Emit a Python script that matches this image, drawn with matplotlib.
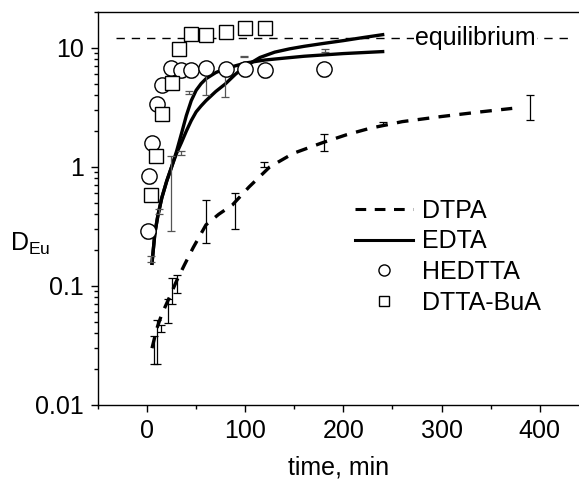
import numpy as np
import matplotlib
matplotlib.use('Agg')
import matplotlib.pyplot as plt
from matplotlib.lines import Line2D
from matplotlib.ticker import LogLocator, NullFormatter, FixedFormatter, FixedLocator

plt.rcParams['font.family'] = ['Liberation Sans', 'DejaVu Sans']
plt.rcParams['mathtext.fontset'] = 'custom'
plt.rcParams['mathtext.rm'] = 'Liberation Sans'

# equilibrium level
D_eq = 12.0

# DTPA model curve and data with errors
dtpa_t = [5, 10, 15, 23, 30, 38, 47, 60, 73, 87, 104, 125, 149, 179, 203, 227, 260, 300, 340, 372]
dtpa_D = [0.030, 0.044, 0.058, 0.081, 0.11, 0.15, 0.21, 0.326, 0.40, 0.48, 0.68, 1.0, 1.3,
          1.6, 1.86, 2.11, 2.4, 2.65, 2.9, 3.1]
dtpa_err_t = [7, 10, 14, 21, 25, 30, 60, 90, 119, 180, 240, 390]
dtpa_err_lo = [0.022, 0.022, 0.041, 0.049, 0.070, 0.088, 0.23, 0.30, 1.00, 1.35, 2.27, 2.47]
dtpa_err_hi = [0.038, 0.052, 0.047, 0.077, 0.117, 0.124, 0.53, 0.60, 1.10, 1.90, 2.40, 4.00]

# EDTA model curves (two runs) and error bars
edta1_t = [5, 8, 11, 15, 20, 25, 30, 35, 40, 45, 50, 55, 60, 70, 80, 100, 120, 140, 160, 200, 240]
edta1_D = [0.155, 0.28, 0.39, 0.55, 0.76, 1.0, 1.35, 1.9, 2.7, 3.6, 4.4, 5.0, 5.5, 6.2, 6.7,
           7.45, 7.9, 8.2, 8.5, 8.95, 9.3]
edta2_t = [5, 8, 11, 15, 20, 25, 30, 35, 40, 45, 50, 55, 60, 70, 80, 90, 100, 115, 130, 145,
           160, 180, 200, 220, 240]
edta2_D = [0.155, 0.28, 0.39, 0.55, 0.76, 1.0, 1.3, 1.6, 2.0, 2.45, 2.9, 3.25, 3.6, 4.3, 5.0,
           6.0, 7.0, 8.3, 9.2, 9.8, 10.3, 10.9, 11.5, 12.2, 12.9]
edta_err_t = [4, 12, 24, 35, 43, 60, 79, 99, 181]
edta_err_lo = [0.16, 0.40, 0.29, 1.25, 4.1, 4.0, 3.9, 8.3, 9.3]
edta_err_hi = [0.18, 0.44, 1.23, 1.35, 4.3, 6.3, 7.4, 8.6, 9.7]

# HEDTTA data
hedtta_t = [1, 2, 5, 10, 15, 24, 35, 45, 60, 80, 100, 120, 180]
hedtta_D = [0.29, 0.84, 1.6, 3.4, 4.9, 6.75, 6.5, 6.5, 6.8, 6.65, 6.65, 6.5, 6.6]

# DTTA-BuA data
dttabua_t = [4, 9, 15, 25, 33, 45, 60, 80, 100, 120]
dttabua_D = [0.58, 1.24, 2.8, 5.05, 9.8, 13.1, 12.7, 13.6, 14.6, 14.6]

fig = plt.figure(figsize=(5.79, 4.88), dpi=100)
ax = fig.add_axes([98 / 579, 1 - 405 / 488, 481 / 579, 393 / 488])

ax.plot([-32, 431], [D_eq, D_eq], color='black', lw=1.0, ls=(0, (6, 5)), zorder=1)
ax.text(273, D_eq, 'equilibrium', fontsize=18, va='center', ha='left',
        bbox=dict(facecolor='white', edgecolor='none', pad=1), zorder=2)

ax.plot(dtpa_t, dtpa_D, color='black', lw=2.4, ls=(0, (3.5, 2.8)), zorder=3)
ax.plot(edta1_t, edta1_D, color='black', lw=2.4, zorder=3)
ax.plot(edta2_t, edta2_D, color='black', lw=2.4, zorder=3)

lo = np.array(dtpa_err_lo)
hi = np.array(dtpa_err_hi)
mid = np.sqrt(lo * hi)
ax.errorbar(dtpa_err_t, mid, yerr=[mid - lo, hi - mid],
            fmt='none', ecolor='black', elinewidth=0.9, capsize=3, capthick=0.9, zorder=4)
lo2 = np.array(edta_err_lo)
hi2 = np.array(edta_err_hi)
mid2 = np.sqrt(lo2 * hi2)
ax.errorbar(edta_err_t, mid2, yerr=[mid2 - lo2, hi2 - mid2],
            fmt='none', ecolor='#555555', elinewidth=0.9, capsize=3, capthick=0.9, zorder=4)

h = np.array(hedtta_D)
ax.errorbar(hedtta_t, hedtta_D, yerr=[h * 0.12, h * 0.12], fmt='o', ms=11, mfc='white',
            mec='black', mew=1.0, ecolor='black', elinewidth=0.8, capsize=3, capthick=0.8, zorder=5)
s = np.array(dttabua_D)
ax.errorbar(dttabua_t, dttabua_D, yerr=[s * 0.1, s * 0.1], fmt='s', ms=9.5, mfc='white',
            mec='black', mew=1.0, ecolor='black', elinewidth=0.8, capsize=3, capthick=0.8, zorder=5)

ax.set_yscale('log')
ax.set_xlim(-50, 440)
ax.set_ylim(0.01, 20)
ax.xaxis.set_major_locator(FixedLocator([0, 100, 200, 300, 400]))
ax.xaxis.set_minor_locator(FixedLocator([-50, 50, 150, 250, 350]))
ax.yaxis.set_major_locator(FixedLocator([0.01, 0.1, 1, 10]))
ax.yaxis.set_major_formatter(FixedFormatter(['0.01', '0.1', '1', '10']))
ax.yaxis.set_minor_locator(LogLocator(base=10, subs=np.arange(2, 10)))
ax.yaxis.set_minor_formatter(NullFormatter())
ax.tick_params(which='both', direction='out', labelsize=18, width=1, pad=5)
ax.tick_params(which='major', length=5)
ax.tick_params(which='minor', length=3)
ax.spines['right'].set_visible(False)
for sp in ['left', 'bottom', 'top']:
    ax.spines[sp].set_linewidth(1.0)

ax.set_xlabel('time, min', fontsize=18, labelpad=9)
fig.text(10 / 579, 1 - 244 / 488, r'D$_{\rm Eu}$', fontsize=18, ha='left', va='center')

handles = [
    Line2D([], [], color='black', lw=2.2, ls=(0, (3.5, 2.8))),
    Line2D([], [], color='black', lw=2.2),
    Line2D([], [], ls='none', marker='o', ms=8, mfc='white', mec='black', mew=1.0),
    Line2D([], [], ls='none', marker='s', ms=7.5, mfc='white', mec='black', mew=1.0),
]
labels = ['DTPA', 'EDTA', 'HEDTTA', 'DTTA-BuA']
fig.legend(handles, labels, loc='upper left', bbox_to_anchor=(355 / 579, 1 - 199 / 488),
           frameon=False, fontsize=18, handlelength=2.3, handletextpad=0.4,
           labelspacing=0.26, borderaxespad=0, borderpad=0)

fig.savefig('out.png', dpi=100)
